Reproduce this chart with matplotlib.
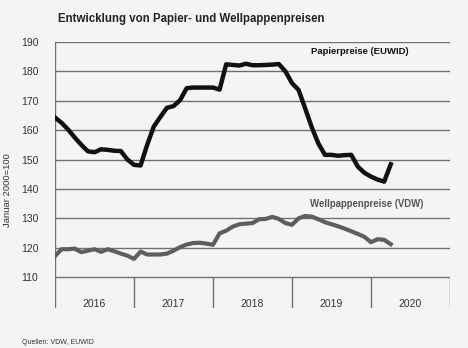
import matplotlib
matplotlib.use("Agg")
import matplotlib.pyplot as plt
import numpy as np

plt.rcParams['font.family'] = ['Liberation Sans', 'DejaVu Sans']

years = ["2016", "2017", "2018", "2019", "2020"]
yticks = [110, 120, 130, 140, 150, 160, 170, 180, 190]

papier = [164.3, 162.5, 160.2, 157.5, 155.0, 152.8, 152.5, 153.5, 153.3, 153.0,
          152.9, 150.0, 148.2, 148.0, 155.0, 161.2, 164.5, 167.6, 168.2, 170.2,
          174.3, 174.5, 174.5, 174.5, 174.5, 173.8, 182.4, 182.2, 182.0, 182.6,
          182.1, 182.1, 182.2, 182.3, 182.5, 180.0, 176.0, 173.7, 167.4, 161.0,
          155.5, 151.6, 151.6, 151.3, 151.5, 151.6, 147.6, 145.5, 144.2, 143.2,
          142.5, 148.4]

wellpappe = [117.2, 119.5, 119.5, 119.7, 118.5, 119.0, 119.5, 118.6, 119.5, 118.8,
             118.0, 117.3, 116.2, 118.7, 117.7, 117.7, 117.7, 118.0, 119.0, 120.2,
             121.1, 121.6, 121.7, 121.4, 121.0, 124.9, 125.8, 127.2, 128.0, 128.2,
             128.4, 129.7, 129.8, 130.5, 129.8, 128.4, 127.8, 130.0, 130.8, 130.6,
             129.7, 128.7, 128.0, 127.3, 126.5, 125.6, 124.7, 123.7, 121.9, 122.9,
             122.7, 121.2]

bg = "#f4f4f4"
fig = plt.figure(figsize=(4.68, 3.48), dpi=100, facecolor=bg)
ax = fig.add_axes([55/468, 1-308/348, (450-55)/468, (308-42)/348])
ax.set_facecolor(bg)

ymin = 99.5
ax.set_xlim(0, 60)
ax.set_ylim(ymin, 190)

grid_c = "#707070"
for v in yticks:
    ax.axhline(v, color=grid_c, lw=1.0, zorder=1)
# left border
ax.vlines(0, ymin, 190, color=grid_c, lw=1.0, zorder=1)
# year separators
for i in range(1, 6):
    ax.vlines(i*12, ymin, 110, color=grid_c, lw=1.0, zorder=1)
for i, yr in enumerate(years):
    ax.text(i*12 + 6, 100.8, yr, ha='center', va='center', fontsize=7.5, color='#333333')

x = np.arange(len(papier))
ax.plot(x, papier, color='#111111', lw=3.2, solid_joinstyle='round', zorder=3)
ax.plot(np.arange(len(wellpappe)), wellpappe, color='#5e5e5e', lw=3.0,
        solid_joinstyle='round', zorder=3)

for s in ax.spines.values():
    s.set_visible(False)
ax.set_xticks([])
ax.set_yticks(yticks)
ax.set_yticklabels([str(v) for v in yticks], fontsize=7.5, color='#333333')
ax.tick_params(axis='y', length=0, pad=12)

ax.text(38.9, 186.8, "Papierpreise (EUWID)", fontsize=6.8, fontweight='bold',
        color='#111111', ha='left', va='center')
ax.text(38.7, 134.9, "Wellpappenpreise (VDW)", fontsize=6.9, fontweight='bold',
        color='#555555', ha='left', va='center')

fig.text(58/468, 1-19/348, "Entwicklung von Papier- und Wellpappenpreisen",
         fontsize=8.3, fontweight='bold', color='#222222', ha='left', va='center')
fig.text(8/468, 1-190/348, "Januar 2000=100", rotation=90, fontsize=6.8,
         color='#333333', ha='center', va='center')
fig.text(22/468, 1-342/348, "Quellen: VDW, EUWID", fontsize=5, color='#333333',
         ha='left', va='center')

fig.savefig("out.png", dpi=100, facecolor=bg)
